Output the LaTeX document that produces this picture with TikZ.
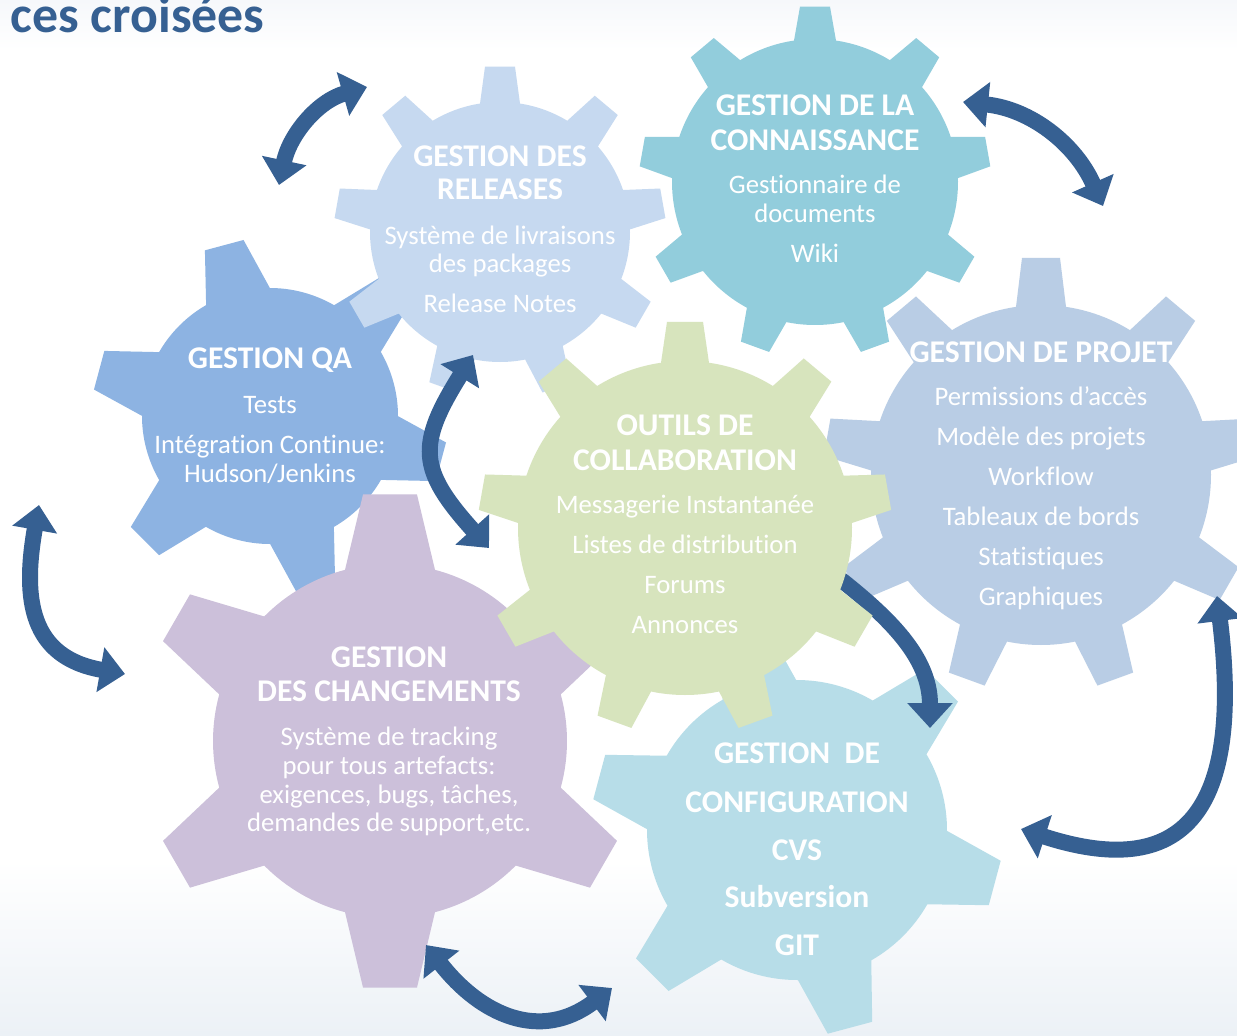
\documentclass[tikz,border=0pt]{standalone}
\usepackage{fontspec}
\setmainfont{Carlito}[Ligatures=NoCommon]
\usetikzlibrary{arrows.meta}
\definecolor{cqa}{RGB}{141,179,226}
\definecolor{crel}{RGB}{198,217,240}
\definecolor{ckno}{RGB}{146,205,220}
\definecolor{cproj}{RGB}{185,205,229}
\definecolor{ccollab}{RGB}{215,228,189}
\definecolor{cchg}{RGB}{204,192,218}
\definecolor{ccfg}{RGB}{183,221,232}
\definecolor{cdark}{RGB}{54,96,146}
\definecolor{cfadetop}{RGB}{246,248,251}
\definecolor{cfadebot}{RGB}{236,241,246}
\tikzset{
	>={Triangle[width=0.88cm,length=0.5cm]},%
	headline/.style={%
			anchor=base,%
			text=white,%
			inner sep=0,%
			font={\fontsize{18}{20}\selectfont\bfseries}},%
	itemline/.style={%
			anchor=base,%
			text=white,%
			inner sep=0,%
			font={\fontsize{15.2}{16}\selectfont}},%
	link/.style={%
			draw=cdark,%
			line width=0.32cm},%
}
% centre, teeth, rotation, body radius, tip radius, base half width, tip half width, colour
\newcommand{\gearwheel}[8]{%
	\pgfmathsetmacro{\gstep}{360/#2}%
	\pgfmathsetmacro{\gbase}{asin(#6/#4)}%
	\pgfmathsetmacro{\gtip}{asin(#7/#5)}%
	\pgfmathtruncatemacro{\glast}{#2-1}%
	\fill[#8, shift={#1}] ({#3-\gbase}:#4)
	\foreach \k [evaluate=\k as \a using #3+\k*\gstep] in {0,...,\glast} {
			-- ({\a-\gtip}:#5) -- ({\a+\gtip}:#5) -- ({\a+\gbase}:#4)
			arc[start angle=\a+\gbase, end angle=\a+\gstep-\gbase, radius=#4]
		} -- cycle;%
}

\begin{document}
\begin{tikzpicture}[x=0.02cm, y=0.02cm]
	\useasboundingbox (0,0) rectangle (1237,-1035);
	\clip (0,0) rectangle (1237,-1035);
	\fill[white] (0,0) rectangle (1237,-1035);
	\shade[top color=cfadetop, bottom color=white] (0,0) rectangle (1237,-50);
	\shade[top color=white, bottom color=cfadebot] (0,-860) rectangle (1237,-1035);

	\node[anchor=base east, inner sep=0, text=cdark, font={\fontsize{29.5}{32}\selectfont\bfseries}] (title) at (265,-32) {ces croisées};

	% gear centres
	\coordinate (qa) at (270,-416);
	\coordinate (rel) at (500,-232);
	\coordinate (kno) at (815,-182);
	\coordinate (proj) at (1041,-475);
	\coordinate (cfg) at (797,-830);
	\coordinate (chg) at (390,-741);
	\coordinate (collab) at (685,-528);

	\gearwheel{(qa)}{6}{105}{128}{178}{33}{20}{cqa}
	\node[headline] (qa-1) at (270,-368) {GESTION QA};
	\node[itemline] (qa-2) at (270,-413) {Tests};
	\node[itemline] (qa-3) at (270,-453) {Intégration Continue:};
	\node[itemline] (qa-4) at (270,-482) {Hudson/Jenkins};

	\gearwheel{(rel)}{9}{90}{130}{166}{20}{15}{crel}
	\node[headline] (rel-1) at (500,-166) {GESTION DES};
	\node[headline] (rel-2) at (500,-199) {RELEASES};
	\node[itemline] (rel-3) at (500,-244) {Système de livraisons};
	\node[itemline] (rel-4) at (500,-272) {des packages};
	\node[itemline] (rel-5) at (500,-312) {Release Notes};

	\gearwheel{(kno)}{9}{90}{143}{176}{21}{15}{ckno}
	\node[headline] (kno-1) at (815,-115) {GESTION DE LA};
	\node[headline] (kno-2) at (815,-150) {CONNAISSANCE};
	\node[itemline] (kno-3) at (815,-193) {Gestionnaire de};
	\node[itemline] (kno-4) at (815,-222) {documents};
	\node[itemline] (kno-5) at (815,-262) {Wiki};

	\gearwheel{(proj)}{9}{90}{170}{218}{25}{19}{cproj}
	\node[headline] (proj-1) at (1041,-362) {GESTION DE PROJET};
	\node[itemline] (proj-2) at (1041,-405) {Permissions d’accès};
	\node[itemline] (proj-3) at (1041,-445) {Modèle des projets};
	\node[itemline] (proj-4) at (1041,-485) {Workflow};
	\node[itemline] (proj-5) at (1041,-525) {Tableaux de bords};
	\node[itemline] (proj-6) at (1041,-565) {Statistiques};
	\node[itemline] (proj-7) at (1041,-605) {Graphiques};

	\gearwheel{(cfg)}{6}{105}{150}{206}{38}{23}{ccfg}
	\node[headline] (cfg-1) at (797,-763) {GESTION~~DE};
	\node[headline] (cfg-2) at (797,-812) {CONFIGURATION};
	\node[headline] (cfg-3) at (797,-860) {CVS};
	\node[headline] (cfg-4) at (797,-907) {Subversion};
	\node[headline] (cfg-5) at (797,-955) {GIT};

	\gearwheel{(chg)}{6}{90}{177}{248}{45}{27}{cchg}
	\node[headline] (chg-1) at (389,-667) {GESTION};
	\node[headline] (chg-2) at (389,-701) {DES CHANGEMENTS};
	\node[itemline] (chg-3) at (389,-745) {Système de tracking};
	\node[itemline] (chg-4) at (389,-774) {pour tous artefacts:};
	\node[itemline] (chg-5) at (389,-803) {exigences, bugs, tâches,};
	\node[itemline] (chg-6) at (389,-831) {demandes de support,etc.};

	% arrow coming out from under the collaboration gear
	\coordinate (a5-s) at (835,-575);
	\coordinate (a5-e) at (930,-728);
	\draw[link, ->] (a5-s) to[out=-38, in=90] (a5-e);

	\gearwheel{(collab)}{9}{90}{167}{207}{24}{18}{ccollab}
	\node[headline] (collab-1) at (685,-435) {OUTILS DE};
	\node[headline] (collab-2) at (685,-470) {COLLABORATION};
	\node[itemline] (collab-3) at (685,-513) {Messagerie Instantanée};
	\node[itemline] (collab-4) at (685,-553) {Listes de distribution};
	\node[itemline] (collab-5) at (685,-593) {Forums};
	\node[itemline] (collab-6) at (685,-633) {Annonces};

	% double arrows
	\coordinate (a1-s) at (367,-87);
	\coordinate (a1-e) at (279,-185);
	\coordinate (a2-s) at (963,-102);
	\coordinate (a2-e) at (1103,-206);
	\coordinate (a3-s) at (39,-505);
	\coordinate (a3-e) at (125,-674);
	\coordinate (a4-s) at (473,-355);
	\coordinate (a4-e) at (489,-548);
	\coordinate (a6-s) at (1217,-596);
	\coordinate (a6-e) at (1021,-829);
	\coordinate (a7-s) at (426,-945);
	\coordinate (a7-e) at (612,-988);

	\draw[link, <->] (a1-s) to[out=196, in=78] (a1-e);
	\draw[link, <->] (a2-s) to[out=-6, in=114] (a2-e);
	\draw[link, <->] (a3-s) to[out=-100, in=170, looseness=1.3] (a3-e);
	\draw[link, <->] (a4-s) to[out=238, in=132, looseness=1.4] (a4-e);
	\draw[link, <->] (a6-s) to[out=-83, in=-18, looseness=1.6] (a6-e);
	\draw[link, <->] (a7-s) to[out=-52, in=-143, looseness=1.2] (a7-e);
\end{tikzpicture}
\end{document}
